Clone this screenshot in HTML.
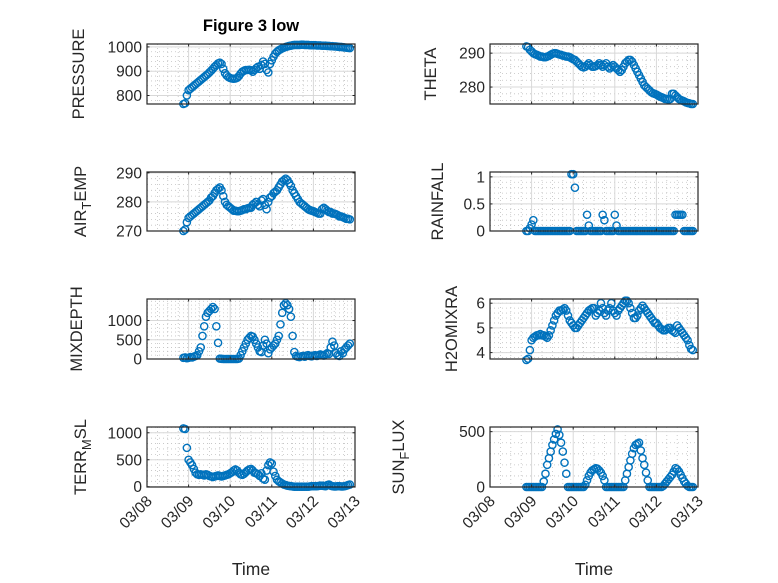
<!DOCTYPE html>
<html><head><meta charset="utf-8">
<style>
html,body{margin:0;padding:0;background:#fff;}
svg{display:block;font-family:"Liberation Sans","DejaVu Sans",sans-serif;}
</style></head>
<body>
<svg id="fig" width="778" height="583" viewBox="0 0 778 583" xmlns="http://www.w3.org/2000/svg">
<rect x="0" y="0" width="778" height="583" fill="#fff"/>
<text x="251" y="31" text-anchor="middle" font-size="16.5" font-weight="bold" fill="#000">Figure 3 low</text>
</svg>
<script>
// time: days since 03/08 00:00, hourly samples
const timeStartDay = 0.875;
const xTickLabels = ["03/08","03/09","03/10","03/11","03/12","03/13"];
const pressure = [765,768,800,822,828,834,840,846,852,858,864,870,876,882,888,895,902,910,918,925,932,935,930,910,892,882,876,872,870,869,870,873,880,890,898,902,905,905,906,904,898,905,912,918,910,925,940,930,905,895,930,945,960,972,980,986,990,994,997,1000,1002,1004,1005,1007,1008,1008,1008,1008,1009,1009,1008,1008,1008,1007,1007,1007,1007,1006,1006,1006,1005,1005,1005,1004,1004,1003,1003,1002,1002,1001,1000,1000,999,998,997,996,995];
const theta = [292,291.8,291,290.5,290,289.7,289.5,289.3,289,289,288.8,288.8,289,289.2,289.5,289.8,290,290,289.8,289.6,289.5,289.3,289.2,289,289,288.8,288.5,288.2,288,287.5,287,286.5,286,285.8,286,286.5,287,286.5,286,286,286.2,286.5,287,286.5,286,286.5,287,286,285.5,286,286.5,286,285.5,285,284.5,285,286,287,287.5,288,288,287.5,286.5,285.5,284.5,283.5,282.5,281.5,280.5,280,279.5,279,278.5,278.2,278,277.8,277.5,277.2,277,276.8,276.5,276.5,276.3,276.5,278,278,277.5,277,276.5,276.2,276,275.8,275.5,275.3,275.2,275,275];
const airTemp = [270,270.5,273,274.5,275,275.5,276,276.5,277,277.5,278,278.5,279,279.5,280,280.5,281.5,282,283,284,284.5,285,284,282,280,279,278.5,278,277.5,277,277,276.8,276.8,277,277.2,277.5,277.5,277.8,278,278,279,279.5,280,279,278.5,280.5,281,279,277.5,280,281.5,282,283,283.5,284,285,286,287,287.5,288,287.5,286.5,285.5,284,283,282,281,280,279.5,279,278.5,278,277.5,277.2,277,276.8,276.5,276.3,276,276,277.5,278,277.5,277,276.5,276.5,276,276,275.8,275.5,275,275,274.8,274.5,274.2,274.2,274];
const rainfall = [0,0,0.05,0.12,0.2,0,0,0,0,0,0,0,0,0,0,0,0,0,0,0,0,0,0,0,0,0,1.05,1.05,0.8,0,0,0,0,0,0,0.3,0.1,0,0,0,0,0,0,0,0.3,0.2,0,0,0,0,0,0.3,0.1,0,0,0,0,0,0,0,0,0,0,0,0,0,0,0,0,0,0,0,0,0,0,0,0,0,0,0,0,0,0,0,0,0,0.3,0.3,0.3,0.3,0.3,0,0,0,0,0,0];
const mixDepth = [30,40,20,30,50,40,60,80,100,200,300,600,850,1100,1200,1250,1300,1350,1300,850,420,10,5,0,0,0,0,0,0,0,0,0,10,100,200,300,400,500,550,600,580,500,400,300,200,180,350,500,400,150,250,300,350,400,500,600,900,1200,1400,1450,1400,1300,1100,600,180,80,60,50,70,80,60,90,100,80,70,90,100,80,100,120,100,90,120,150,130,300,450,350,150,100,80,200,150,250,300,350,400];
const h2oMixRa = [3.7,3.75,4.1,4.5,4.6,4.65,4.7,4.7,4.75,4.7,4.7,4.65,4.6,4.7,4.9,5.1,5.3,5.5,5.6,5.7,5.7,5.75,5.8,5.7,5.5,5.3,5.2,5.1,5.0,5.0,5.1,5.2,5.3,5.4,5.5,5.6,5.7,5.75,5.8,5.8,5.5,5.6,5.7,6.0,5.8,5.6,5.5,5.7,5.8,6.0,5.7,5.6,5.5,5.7,5.8,5.9,6.0,6.1,6.1,6.0,5.8,5.6,5.4,5.4,5.5,5.7,5.8,5.9,5.8,5.7,5.6,5.5,5.4,5.3,5.2,5.2,5.1,5.0,4.95,4.9,4.9,4.95,5.0,5.0,4.9,4.85,4.8,5.1,5.0,4.9,4.8,4.7,4.6,4.5,4.3,4.15,4.1];
const terrMsl = [1080,1070,720,500,450,400,330,260,230,220,230,220,210,230,220,200,190,180,190,200,210,200,190,200,210,220,230,250,270,300,320,300,260,230,220,240,270,300,320,330,300,260,250,230,200,250,150,130,300,400,450,430,280,200,130,100,80,60,40,30,20,15,10,5,0,0,0,0,0,0,0,0,0,5,10,10,10,10,15,20,20,15,10,30,40,20,10,5,5,10,10,5,5,10,20,30,40];
const sunFlux = [0,0,0,0,0,0,0,0,0,0,50,120,200,260,320,380,430,480,520,470,400,320,220,120,0,0,0,0,0,0,0,0,0,0,20,60,100,130,150,160,170,165,150,130,100,60,0,0,0,0,0,0,0,0,0,0,0,60,120,180,240,300,350,380,390,400,330,260,200,130,60,0,0,0,0,0,0,0,0,10,30,50,70,90,110,140,170,160,140,110,80,50,30,10,0,0,0];

const svg = document.getElementById('fig');
const NS = 'http://www.w3.org/2000/svg';
function mk(tag, attrs, parent){
  const e = document.createElementNS(NS, tag);
  for (const k in attrs) e.setAttribute(k, attrs[k]);
  (parent||svg).appendChild(e);
  return e;
}
const panels = [
  {key:'pressure', data:pressure, col:0, row:0, ymin:765, ymax:1012, ticks:[800,900,1000], minor:20, label:['PRESSURE'], lx:78, bottom:false},
  {key:'theta', data:theta, col:1, row:0, ymin:275, ymax:292.7, ticks:[280,290], minor:2, label:['THETA'], lx:430, bottom:false},
  {key:'air-temp', data:airTemp, col:0, row:1, ymin:270, ymax:290.3, ticks:[270,280,290], minor:2, label:['AIR','T','EMP'], lx:80, bottom:false},
  {key:'rainfall', data:rainfall, col:1, row:1, ymin:0, ymax:1.09, ticks:[0,0.5,1], minor:0.1, label:['RAINFALL'], lx:437, bottom:false},
  {key:'mixdepth', data:mixDepth, col:0, row:2, ymin:0, ymax:1560, ticks:[0,500,1000], minor:100, label:['MIXDEPTH'], lx:76, bottom:false},
  {key:'h2omixra', data:h2oMixRa, col:1, row:2, ymin:3.74, ymax:6.17, ticks:[4,5,6], minor:0.2, label:['H2OMIXRA'], lx:451, bottom:false},
  {key:'terr-msl', data:terrMsl, col:0, row:3, ymin:-5, ymax:1107, ticks:[0,500,1000], minor:100, label:['TERR','M','SL'], lx:80, bottom:true},
  {key:'sun-flux', data:sunFlux, col:1, row:3, ymin:0, ymax:542, ticks:[0,500], minor:100, label:['SUN','F','LUX'], lx:398, bottom:true}
];
const colX = [147, 490], W = 208;
const rowY = [[44,104],[172,231],[299,359],[427,487]];
const blue = '#0072BD';

panels.forEach(p => {
  const x0 = colX[p.col], x1 = x0 + W, y0 = rowY[p.row][0], y1 = rowY[p.row][1];
  const g = mk('g', {});
  
  
  const xs = d => x0 + (d / 5) * W;
  const ys = v => y1 - (v - p.ymin) / (p.ymax - p.ymin) * (y1 - y0);
  mk('rect', {x:x0, y:y0, width:W, height:y1-y0, fill:'#fff'}, g);
  for (let d = 0; d < 5; d += 0.25) { if (Math.abs(d - Math.round(d)) < 1e-6) continue;
    mk('line', {x1:xs(d), x2:xs(d), y1:y0, y2:y1, stroke:'#c0c0c0', 'stroke-width':0.8, 'stroke-dasharray':'1,3'}, g); }
  const mstart = Math.ceil(p.ymin / p.minor) * p.minor;
  for (let v = mstart; v <= p.ymax + 1e-9; v += p.minor) {
    mk('line', {x1:x0, x2:x1, y1:ys(v), y2:ys(v), stroke:'#c0c0c0', 'stroke-width':0.8, 'stroke-dasharray':'1,3'}, g); }
  for (let d = 1; d < 5; d++) mk('line', {x1:xs(d), x2:xs(d), y1:y0, y2:y1, stroke:'#d8d8d8', 'stroke-width':1}, g);
  p.ticks.forEach(v => mk('line', {x1:x0, x2:x1, y1:ys(v), y2:ys(v), stroke:'#d8d8d8', 'stroke-width':1}, g));
  p.data.forEach((v, i) => {
    const c = mk('circle', {cx:xs(timeStartDay + i/24), cy:ys(v), r:3.6, fill:'none', stroke:blue, 'stroke-width':1.4}, g);
    
    
  });
  mk('rect', {x:x0, y:y0, width:W, height:y1-y0, fill:'none', stroke:'#262626', 'stroke-width':1.2}, g);
  for (let d = 0; d <= 5; d++) {
    mk('line', {x1:xs(d), x2:xs(d), y1:y1, y2:y1-2.5, stroke:'#262626'}, g);
    mk('line', {x1:xs(d), x2:xs(d), y1:y0, y2:y0+2.5, stroke:'#262626'}, g);
  }
  p.ticks.forEach(v => {
    mk('line', {x1:x0, x2:x0+2.5, y1:ys(v), y2:ys(v), stroke:'#262626'}, g);
    mk('line', {x1:x1, x2:x1-2.5, y1:ys(v), y2:ys(v), stroke:'#262626'}, g);
    const t = mk('text', {x:x0-5, y:ys(v)+5.5, 'text-anchor':'end', 'font-size':15.5, fill:'#262626'}, g);
    t.textContent = String(v);
    
    
  });
  const cy = (y0 + y1) / 2;
  const yl = mk('text', {x:0, y:0, 'text-anchor':'middle', 'font-size':16.5, fill:'#262626', transform:`translate(${p.lx + 6},${cy}) rotate(-90)`}, g);
  
  
  if (p.label.length === 1) yl.textContent = p.label[0];
  else {
    const a = mk('tspan', {}, yl); a.textContent = p.label[0];
    const b = mk('tspan', {dy:5, 'font-size':13}, yl); b.textContent = p.label[1];
    const c = mk('tspan', {dy:-5}, yl); c.textContent = p.label[2];
  }
  if (p.bottom) {
    xTickLabels.forEach((lab, d) => {
      const t = mk('text', {x:0, y:0, 'text-anchor':'end', 'font-size':15.5, fill:'#262626', transform:`translate(${xs(d)+6},${y1+15}) rotate(-45)`}, g);
      t.textContent = lab;
      
      
    });
    const xt = mk('text', {x:(x0+x1)/2, y:575, 'text-anchor':'middle', 'font-size':17.5, fill:'#262626'}, g);
    xt.textContent = 'Time';
    
    
  }
});
</script>
</body></html>
